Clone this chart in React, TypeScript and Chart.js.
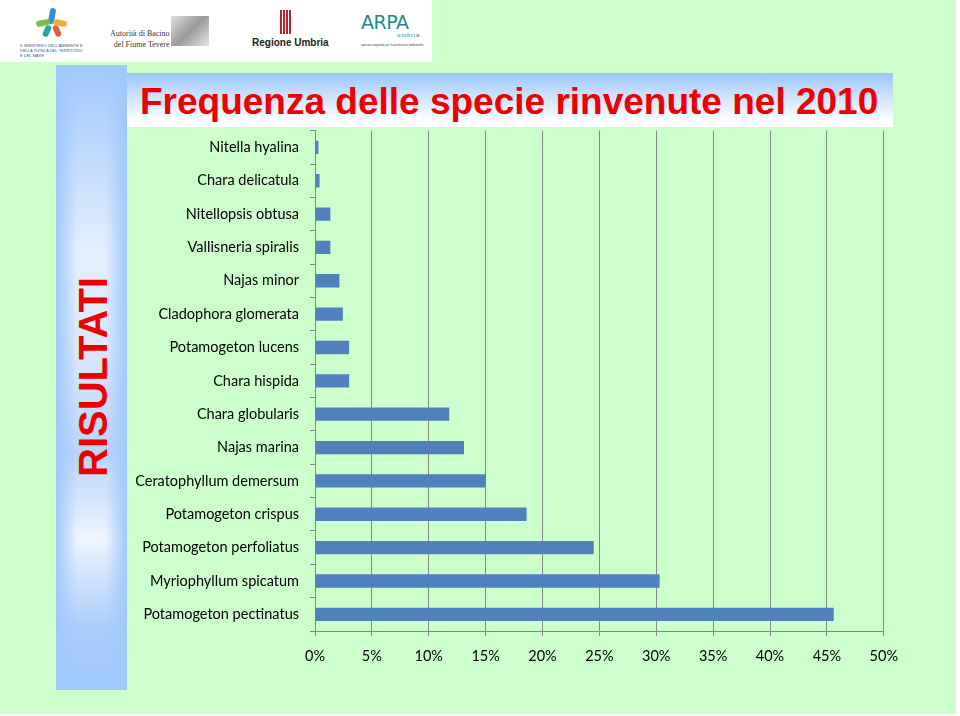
import React, { useEffect, useRef } from "react";
import { Chart, registerables } from "chart.js";

Chart.register(...registerables);

const species: string[] = [
  "Nitella hyalina",
  "Chara delicatula",
  "Nitellopsis obtusa",
  "Vallisneria spiralis",
  "Najas minor",
  "Cladophora glomerata",
  "Potamogeton lucens",
  "Chara hispida",
  "Chara globularis",
  "Najas marina",
  "Ceratophyllum demersum",
  "Potamogeton crispus",
  "Potamogeton perfoliatus",
  "Myriophyllum spicatum",
  "Potamogeton pectinatus",
];

const frequency2010: number[] = [
  0.3, 0.4, 1.35, 1.35, 2.15, 2.45, 3.0, 3.0, 11.8, 13.1, 15.0, 18.6, 24.5, 30.3, 45.6,
];

const xTickValues: number[] = [0, 5, 10, 15, 20, 25, 30, 35, 40, 45, 50];

const titleText = "Frequenza delle specie rinvenute nel 2010";
const sideText = "RISULTATI";

const GRID = "#808c80";

function BarChart() {
  const ref = useRef<HTMLCanvasElement | null>(null);
  useEffect(() => {
    if (!ref.current) return;
    const chart = new Chart(ref.current, {
      type: "bar",
      data: {
        labels: species,
        datasets: [
          {
            data: frequency2010,
            backgroundColor: "#4f81bd",
            borderWidth: 0,
            barPercentage: 0.4,
            categoryPercentage: 1,
          },
        ],
      },
      options: {
        indexAxis: "y",
        animation: false,
        responsive: false,
        maintainAspectRatio: false,
        layout: { padding: { top: 10, right: 16, left: 0, bottom: 0 } },
        plugins: { legend: { display: false }, tooltip: { enabled: false } },
        scales: {
          x: {
            min: 0,
            max: 50,
            afterBuildTicks: (s: any) => {
              s.ticks = xTickValues.map((v) => ({ value: v }));
            },
            afterFit: (s: any) => {
              s.height = 59;
            },
            grid: { color: GRID, lineWidth: 1, tickLength: 5, drawTicks: true },
            border: { display: true, color: GRID, width: 1 },
            ticks: {
              callback: (v: any) => v + "%",
              color: "#000000",
              padding: 12,
              maxRotation: 0,
              font: { family: "Lato", size: 14.5 },
            },
          },
          y: {
            afterFit: (s: any) => {
              s.width = 195;
            },
            grid: {
              color: GRID,
              offset: true,
              drawOnChartArea: false,
              tickLength: 5,
            },
            border: { display: true, color: GRID, width: 1 },
            ticks: {
              color: "#000000",
              padding: 11,
              autoSkip: false,
              font: { family: "Lato", size: 14.5 },
            },
          },
        },
      },
    });
    return () => chart.destroy();
  }, []);
  return (
    <canvas
      ref={ref}
      width={790}
      height={579}
      style={{ position: "absolute", left: 120, top: 111, width: 790, height: 579 }}
    />
  );
}

function Logos() {
  return (
    <div
      style={{
        position: "absolute",
        left: 0,
        top: 0,
        width: 432,
        height: 62,
        background: "#ffffff",
        overflow: "hidden",
      }}
    >
      <div style={{ position: "absolute", left: 36, top: 8, width: 30, height: 30 }}>
        <div style={{ position: "absolute", left: 13, top: 0, width: 6, height: 16, background: "#3b8fd0", borderRadius: 3, transform: "rotate(10deg)" }} />
        <div style={{ position: "absolute", left: 0, top: 12, width: 14, height: 6, background: "#7cbf3a", borderRadius: 3, transform: "rotate(-10deg)" }} />
        <div style={{ position: "absolute", left: 17, top: 12, width: 14, height: 6, background: "#f2a93b", borderRadius: 3, transform: "rotate(10deg)" }} />
        <div style={{ position: "absolute", left: 8, top: 17, width: 6, height: 12, background: "#2aa39a", borderRadius: 3, transform: "rotate(25deg)" }} />
        <div style={{ position: "absolute", left: 18, top: 17, width: 6, height: 12, background: "#e0603a", borderRadius: 3, transform: "rotate(-25deg)" }} />
      </div>
      <div style={{ position: "absolute", left: 20, top: 43, fontFamily: "Liberation Sans", fontSize: 4, color: "#2a5b8a", lineHeight: "5px", width: 64 }}>
        IL MINISTERO DELL'AMBIENTE E DELLA TUTELA DEL TERRITORIO E DEL MARE
      </div>
      <div style={{ position: "absolute", left: 110, top: 28, fontFamily: "Liberation Serif", fontSize: 8, lineHeight: "11px", color: "#333", textAlign: "right", whiteSpace: "nowrap" }}>
        Autorità di Bacino
        <br />
        del Fiume Tevere
      </div>
      <div style={{ position: "absolute", left: 171, top: 16, width: 38, height: 30, background: "linear-gradient(135deg,#e0e0e0,#9a9a9a 50%,#e6e6e6)" }} />
      <div style={{ position: "absolute", left: 280, top: 10, width: 12, height: 24, background: "repeating-linear-gradient(90deg,#b3262a 0 2px,#ffffff 2px 3px)" }} />
      <div style={{ position: "absolute", left: 252, top: 37, fontFamily: "Liberation Sans", fontWeight: "bold", fontSize: 10, color: "#222", whiteSpace: "nowrap" }}>
        Regione Umbria
      </div>
      <div style={{ position: "absolute", left: 361, top: 11, fontFamily: "DejaVu Sans", fontSize: 19, color: "#1f8a84", letterSpacing: -0.5 }}>
        ARPA
      </div>
      <div style={{ position: "absolute", left: 397, top: 32, fontFamily: "Liberation Sans", fontSize: 6, color: "#1f8a84", letterSpacing: 0.8 }}>
        umbria
      </div>
      <div style={{ position: "absolute", left: 361, top: 43, fontFamily: "Liberation Sans", fontSize: 3, color: "#444", whiteSpace: "nowrap" }}>
        agenzia regionale per la protezione ambientale
      </div>
    </div>
  );
}

export default function App() {
  return (
    <div style={{ position: "fixed", left: 0, top: 0, width: 960, height: 716, background: "#ffffff", overflow: "hidden" }}>
      <div style={{ position: "absolute", left: 0, top: 0, width: 956, height: 714, background: "#ccffcc" }} />
      <Logos />
      <div
        style={{
          position: "absolute",
          left: 56,
          top: 65,
          width: 71,
          height: 625,
          background:
            "linear-gradient(90deg, rgba(158,200,250,1) 0%, rgba(158,200,250,0) 30%, rgba(158,200,250,0) 70%, rgba(158,200,250,1) 100%), linear-gradient(180deg, #9ec8fa 0%, #e4efff 30%, #dbe8fd 45%, #b9d5fa 62%, #eef5ff 76%, #a9cdf9 90%, #9ec8fa 100%)",
        }}
      />
      <div
        style={{
          position: "absolute",
          left: 93,
          top: 377,
          transform: "translate(-50%, -50%) rotate(-90deg)",
          fontFamily: "Liberation Sans",
          fontWeight: "bold",
          fontSize: 40,
          color: "#ee0000",
          whiteSpace: "nowrap",
          lineHeight: 1,
        }}
      >
        {sideText}
      </div>
      <div
        style={{
          position: "absolute",
          left: 127,
          top: 73,
          width: 766,
          height: 54,
          background: "linear-gradient(180deg, #99c6fa 0%, #d6e7fd 50%, #ffffff 90%)",
        }}
      />
      <div
        style={{
          position: "absolute",
          left: 140,
          top: 101,
          transform: "translateY(-50%)",
          fontFamily: "Liberation Sans",
          fontWeight: "bold",
          fontSize: 37,
          color: "#ee0000",
          whiteSpace: "nowrap",
          lineHeight: 1,
        }}
      >
        {titleText}
      </div>
      <BarChart />
    </div>
  );
}
